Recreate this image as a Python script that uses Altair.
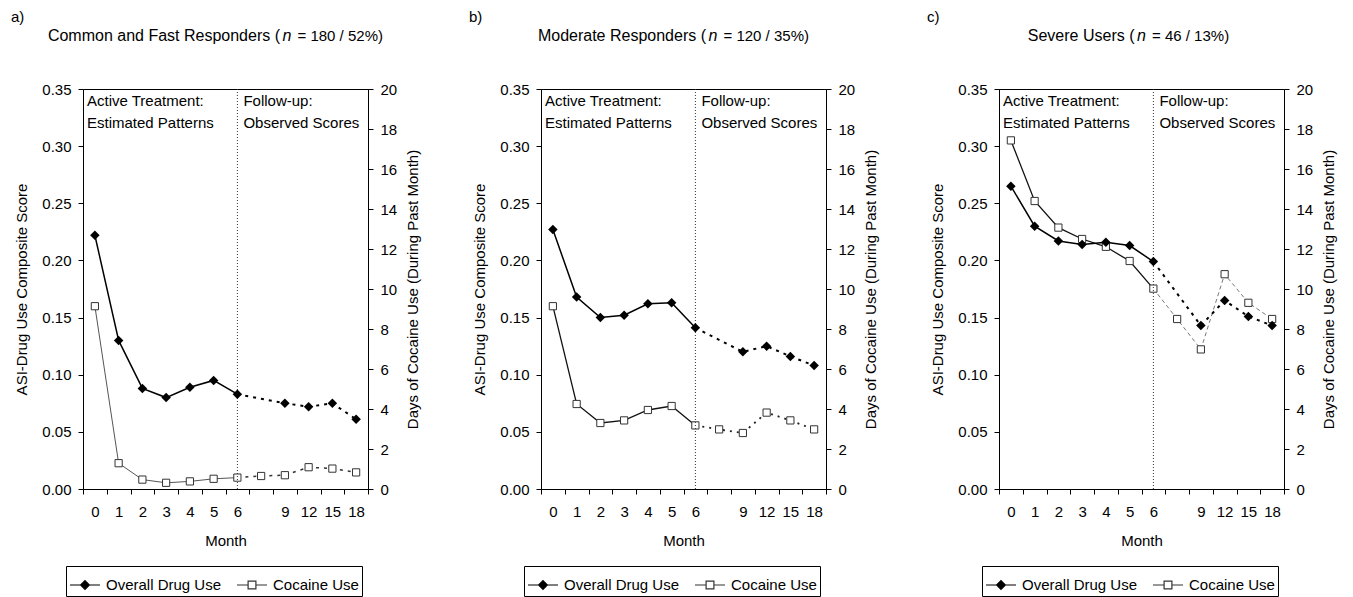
import json
import altair as alt
import pandas as pd

FONT = "Liberation Sans"
FS = 15

# x positions (bands) and their month labels; band 7 is an unlabelled follow-up point
month_labels = ["0", "1", "2", "3", "4", "5", "6", "", "9", "12", "15", "18"]
overall_pos = [0, 1, 2, 3, 4, 5, 6, 8, 9, 10, 11]
cocaine_pos = [0, 1, 2, 3, 4, 5, 6, 7, 8, 9, 10, 11]

# ASI-Drug Use composite score (left axis)
overall_a = [0.222, 0.130, 0.088, 0.080, 0.089, 0.095, 0.083, 0.075, 0.072, 0.075, 0.061]
overall_b = [0.227, 0.168, 0.150, 0.152, 0.162, 0.163, 0.141, 0.120, 0.125, 0.116, 0.108]
overall_c = [0.265, 0.230, 0.217, 0.214, 0.216, 0.213, 0.199, 0.143, 0.165, 0.151, 0.143]

# Days of cocaine use during past month (right axis)
cocaine_a = [9.14, 1.29, 0.47, 0.31, 0.38, 0.51, 0.57, 0.65, 0.69, 1.09, 1.02, 0.83]
cocaine_b = [9.14, 4.25, 3.30, 3.43, 3.95, 4.15, 3.18, 2.98, 2.80, 3.82, 3.43, 2.98]
cocaine_c = [17.43, 14.40, 13.07, 12.50, 12.11, 11.40, 10.02, 8.50, 6.98, 10.74, 9.31, 8.50]

panel_tags = ["a)", "b)", "c)"]
title_lead = ["Common and Fast Responders (", "Moderate Responders (", "Severe Users ("]
title_tail = ["= 180 / 52%)", "= 120 / 35%)", "= 46 / 13%)"]
title_split_x = [197, 165, 135.5]

series_names = ["Overall Drug Use", "Cocaine Use"]
left_ticks = [0.0, 0.05, 0.10, 0.15, 0.20, 0.25, 0.30, 0.35]
right_ticks = [0, 2, 4, 6, 8, 10, 12, 14, 16, 18, 20]

cocaine_solid_color = ["#555555", "#111111", "#111111"]
cocaine_solid_width = [1.0, 1.3, 1.3]
cocaine_dash_color = ["#333333", "#222222", "#777777"]
cocaine_dash_width = [1.5, 1.8, 1.0]
cocaine_dash = [[3, 5], [2, 5], [4, 3]]

W, H = 285, 400

PATH_DIAMOND = "M-1,0L-0.29,0M0.29,0L1,0M-0.29,0L0,-0.29L0.29,0L0,0.29Z"
PATH_SQUARE = "M-1,0L-0.26,0M0.26,0L1,0M-0.26,-0.26L0.26,-0.26L0.26,0.26L-0.26,0.26Z"

label_expr = json.dumps(month_labels) + "[datum.value]"

common_axis = dict(
    grid=False, domainColor="black", tickColor="black", labelColor="black",
    titleColor="black", labelFontSize=FS, titleFontSize=FS, titleFontWeight="normal",
    labelFont=FONT, titleFont=FONT, tickSize=5,
)

xaxis = alt.Axis(title="Month", labelAngle=0, tickBand="extent", labelExpr=label_expr,
                 labelPadding=10, titlePadding=14, **common_axis)
xscale = alt.Scale(type="band", domain=list(range(12)), paddingInner=0, paddingOuter=0)
xenc = alt.X("pos:O", bandPosition=0.5, scale=xscale, axis=xaxis)

yaxis_left = alt.Axis(title="ASI-Drug Use Composite Score", values=left_ticks, format=".2f",
                      labelPadding=7, titlePadding=12, **common_axis)
yaxis_right = alt.Axis(title="Days of Cocaine Use (During Past Month)", orient="right",
                       values=right_ticks, format="d", labelPadding=7, titlePadding=9,
                       titleAngle=270, titleBaseline="top", **common_axis)
yL = alt.Y("value:Q", scale=alt.Scale(domain=[0, 0.35], nice=False, zero=True), axis=yaxis_left)
yR = alt.Y("value:Q", scale=alt.Scale(domain=[0, 20], nice=False, zero=True), axis=yaxis_right)

legend = alt.Legend(title=None, orient="none", legendX=-17, legendY=477, direction="horizontal",
                    strokeColor="black", fillColor="white", padding=3, labelFontSize=FS,
                    labelFont=FONT, labelColor="black", symbolSize=900, symbolStrokeWidth=1.2,
                    labelOffset=5, columnPadding=12)


def txt(text, x, y, align="left", baseline="middle", style="normal", size=FS):
    return alt.Chart(pd.DataFrame({"t": [text]})).mark_text(
        align=align, baseline=baseline, font=FONT, fontSize=size, fontStyle=style, color="black"
    ).encode(text="t:N", x=alt.value(x), y=alt.value(y))


def panel(i, overall, cocaine):
    od = pd.DataFrame({"pos": overall_pos, "value": overall, "series": series_names[0]})
    cd = pd.DataFrame({"pos": cocaine_pos, "value": cocaine, "series": series_names[1]})

    c_act = alt.Chart(cd).transform_filter(alt.datum.pos <= 6).mark_line(
        color=cocaine_solid_color[i], strokeWidth=cocaine_solid_width[i]).encode(x=xenc, y=yR)
    c_fu = alt.Chart(cd).transform_filter(alt.datum.pos >= 6).mark_line(
        color=cocaine_dash_color[i], strokeWidth=cocaine_dash_width[i],
        strokeDash=cocaine_dash[i]).encode(x=xenc, y=yR)
    c_pt = alt.Chart(cd).mark_point(shape="square", filled=True, fill="white", stroke="#333333",
                                    strokeWidth=1, size=52, opacity=1).encode(x=xenc, y=yR)
    coc_layer = alt.layer(c_act, c_fu, c_pt)

    o_act = alt.Chart(od).transform_filter(alt.datum.pos <= 6).mark_line(
        color="black", strokeWidth=1.5).encode(x=xenc, y=yL)
    o_fu = alt.Chart(od).transform_filter(alt.datum.pos >= 6).mark_line(
        color="black", strokeWidth=2, strokeDash=[3, 5]).encode(x=xenc, y=yL)
    o_pt = alt.Chart(od).mark_point(shape="diamond", filled=True, color="black",
                                    size=90, opacity=1).encode(x=xenc, y=yL)
    leg = alt.Chart(od).transform_filter("false").mark_point(opacity=1).encode(
        x=xenc, y=yL,
        shape=alt.Shape("series:N", scale=alt.Scale(domain=series_names,
                                                    range=[PATH_DIAMOND, PATH_SQUARE]), legend=legend),
        fill=alt.Fill("series:N", scale=alt.Scale(domain=series_names,
                                                  range=["black", "white"]), legend=legend),
        stroke=alt.Stroke("series:N", scale=alt.Scale(domain=series_names,
                                                      range=["black", "#333333"]), legend=legend),
    )
    rule = alt.Chart(pd.DataFrame({"pos": [6]})).mark_rule(
        color="#333333", strokeWidth=1, strokeDash=[1, 2]).encode(x=xenc)
    follow = alt.Chart(pd.DataFrame({"pos": [6], "t": ["Follow-up:\nObserved Scores"]})).mark_text(
        align="left", baseline="top", font=FONT, fontSize=FS, color="black", dx=6,
        lineBreak="\n", lineHeight=21.5).encode(x=xenc, y=alt.value(5), text="t:N")
    active = alt.Chart(pd.DataFrame({"t": ["Active Treatment:\nEstimated Patterns"]})).mark_text(
        align="left", baseline="top", font=FONT, fontSize=FS, color="black",
        lineBreak="\n", lineHeight=21.5).encode(x=alt.value(4), y=alt.value(5), text="t:N")

    sx = title_split_x[i]
    titles = [
        txt(panel_tags[i], -72, -72),
        txt(title_lead[i], sx, -53, align="right", size=16),
        txt("n", sx + 2.5, -53, style="italic", size=16),
        txt(title_tail[i], sx + 17.5, -53),
    ]

    ov_layer = alt.layer(rule, o_act, o_fu, o_pt, leg, follow, active, *titles)
    return alt.layer(coc_layer, ov_layer).resolve_scale(y="independent").properties(width=W, height=H)


chart = alt.hconcat(
    panel(0, overall_a, cocaine_a),
    panel(1, overall_b, cocaine_b),
    panel(2, overall_c, cocaine_c),
    spacing=46,
).resolve_scale(
    x="independent", y="independent", shape="independent", fill="independent", stroke="independent"
).resolve_legend(
    shape="independent", fill="independent", stroke="independent"
).properties(
    padding={"left": 2, "top": 1, "right": 0, "bottom": 0}
).configure(
    font=FONT
).configure_view(
    stroke="black", strokeWidth=1
)

chart.save("out.html", embed_options={"renderer": "svg", "actions": False})
